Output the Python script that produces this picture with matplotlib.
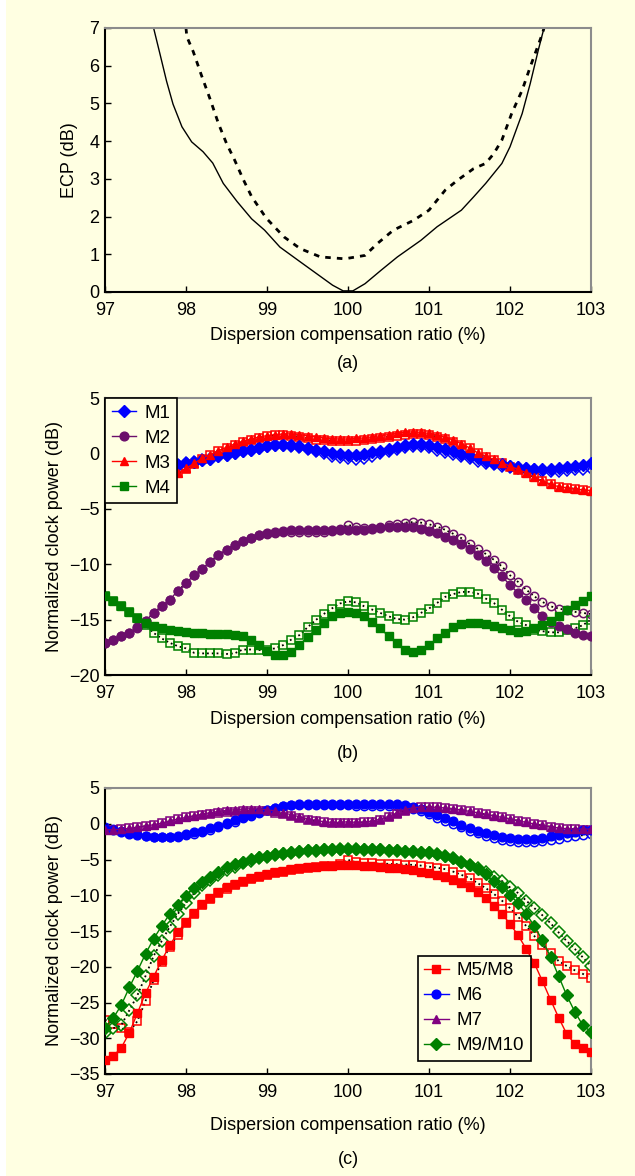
import numpy as np
import matplotlib
matplotlib.use("Agg")
import matplotlib.pyplot as plt
from matplotlib.patches import Rectangle

plt.rcParams['font.family'] = ['Liberation Sans', 'DejaVu Sans']

# ---------------- data ----------------
# Panel (a): ECP curves
ecp_solid_x = [97.6, 97.68, 97.76, 97.84, 97.95, 98.07, 98.21, 98.33, 98.46, 98.63, 98.81, 98.97,
               99.16, 99.41, 99.61, 99.81, 99.94, 100.06, 100.21, 100.41, 100.61, 100.9, 101.1,
               101.4, 101.55, 101.7, 101.9, 102.0, 102.15, 102.25, 102.35, 102.42]
ecp_solid_y = [7.0, 6.3, 5.59, 4.98, 4.38, 3.98, 3.72, 3.42, 2.88, 2.4, 1.94, 1.64,
               1.19, 0.8, 0.49, 0.18, 0.03, 0.03, 0.22, 0.58, 0.93, 1.37, 1.73,
               2.17, 2.52, 2.88, 3.41, 3.85, 4.73, 5.53, 6.42, 7.0]
ecp_dash_x = [98.0, 98.01, 98.09, 98.19, 98.3, 98.4, 98.5, 98.6, 98.71, 98.81, 98.99, 99.21, 99.41,
              99.66, 99.96, 100.21, 100.36, 100.56, 100.81, 101.0, 101.2, 101.35, 101.55, 101.7,
              101.8, 101.9, 102.02, 102.15, 102.25, 102.4, 102.42]
ecp_dash_y = [7.0, 6.77, 6.37, 5.75, 5.1, 4.47, 3.94, 3.5, 2.97, 2.53, 1.96, 1.46, 1.15,
              0.93, 0.88, 0.97, 1.28, 1.64, 1.9, 2.17, 2.7, 2.96, 3.27, 3.41,
              3.67, 4.03, 4.73, 5.35, 5.97, 6.85, 7.0]

# Panels (b), (c): dispersion compensation ratio grid (%)
ratio = np.round(np.arange(97.0, 103.001, 0.1), 1)

# Panel (b) – filled series (solid) and open series (dotted)
m1 = [-0.9, -1.0, -1.0, -1.05, -1.05, -1.1, -1.1, -1.1, -1.08, -1.05, -0.9, -0.8, -0.63, -0.48, -0.27,
      -0.12, 0.03, 0.24, 0.33, 0.48, 0.63, 0.72, 0.78, 0.76, 0.63, 0.48, 0.33, 0.18, 0.03, -0.06,
      -0.1, -0.1, -0.05, 0.1, 0.25, 0.4, 0.55, 0.75, 0.85, 0.83, 0.75, 0.58, 0.4, 0.18, -0.05,
      -0.27, -0.45, -0.66, -0.87, -1.0, -1.17, -1.27, -1.36, -1.39, -1.39, -1.39, -1.36, -1.27, -1.17, -1.05, -0.87]
m1_open = [-0.9, -1.0, -1.0, -1.05, -1.05, -1.1, -1.1, -1.1, -1.08, -1.05, -0.9, -0.8, -0.63, -0.48, -0.27,
           -0.12, 0.03, 0.24, 0.33, 0.48, 0.63, 0.72, 0.75, 0.7, 0.6, 0.4, 0.2, 0.0, -0.2, -0.35,
           -0.42, -0.5, -0.4, -0.2, 0.0, 0.2, 0.4, 0.55, 0.65, 0.65, 0.55, 0.35, 0.15, -0.05, -0.25,
           -0.45, -0.65, -0.85, -1.0, -1.15, -1.25, -1.35, -1.45, -1.5, -1.55, -1.55, -1.55, -1.5, -1.45, -1.4, -1.3]
m2 = [-17.08, -16.84, -16.5, -16.2, -15.7, -15.1, -14.4, -13.8, -13.2, -12.4, -11.7, -11.0, -10.4, -9.76, -9.16,
      -8.7, -8.25, -7.9, -7.6, -7.35, -7.2, -7.05, -6.96, -6.9, -6.9, -6.9, -6.9, -6.9, -6.92, -6.92,
      -6.9, -6.9, -6.9, -6.84, -6.75, -6.66, -6.6, -6.6, -6.66, -6.78, -6.96, -7.2, -7.5, -7.8, -8.16,
      -8.6, -9.16, -9.67, -10.36, -11.1, -11.87, -12.6, -13.2, -13.98, -14.67, -15.2, -15.56, -15.86, -16.2, -16.4, -16.5]
m2_open = [-17.08, -16.84, -16.5, -16.2, -15.8, -15.1, -14.4, -13.8, -13.2, -12.4, -11.7, -11.0, -10.4, -9.76, -9.16,
           -8.7, -8.25, -7.9, -7.6, -7.4, -7.25, -7.15, -7.1, -7.1, -7.1, -7.1, -7.1, -7.1, -7.0, -6.85,
           -6.45, -6.65, -6.75, -6.75, -6.66, -6.5, -6.4, -6.25, -6.2, -6.25, -6.4, -6.6, -6.9, -7.26, -7.65,
           -8.16, -8.6, -9.07, -9.6, -10.2, -11.0, -11.6, -12.3, -12.9, -13.4, -13.8, -14.0, -14.15, -14.3, -14.4, -14.5]
m3 = [-3.4, -3.25, -3.05, -2.85, -2.65, -2.45, -2.25, -2.1, -1.95, -1.75, -1.35, -0.9, -0.45, -0.1, 0.25,
      0.55, 0.85, 1.1, 1.3, 1.48, 1.6, 1.7, 1.75, 1.77, 1.7, 1.6, 1.48, 1.4, 1.33, 1.3,
      1.3, 1.35, 1.4, 1.5, 1.6, 1.7, 1.8, 1.9, 1.95, 1.9, 1.8, 1.65, 1.45, 1.2, 0.87,
      0.5, 0.05, -0.25, -0.55, -0.85, -1.15, -1.45, -1.75, -2.15, -2.5, -2.8, -3.0, -3.1, -3.2, -3.3, -3.35]
m3_open = [-3.4, -3.25, -3.05, -2.85, -2.65, -2.45, -2.25, -2.1, -1.95, -1.8, -1.4, -0.95, -0.5, -0.15, 0.2,
           0.5, 0.8, 1.05, 1.25, 1.42, 1.55, 1.62, 1.65, 1.6, 1.5, 1.35, 1.25, 1.2, 1.15, 1.15,
           1.15, 1.15, 1.2, 1.3, 1.4, 1.5, 1.6, 1.7, 1.75, 1.75, 1.65, 1.5, 1.3, 1.05, 0.75,
           0.45, 0.05, -0.3, -0.6, -0.9, -1.2, -1.5, -1.8, -2.15, -2.5, -2.8, -3.0, -3.1, -3.2, -3.3, -3.4]
m4 = [-12.86, -13.3, -13.8, -14.3, -14.9, -15.3, -15.6, -15.8, -15.95, -16.05, -16.15, -16.2, -16.25, -16.3, -16.3,
      -16.3, -16.35, -16.5, -16.8, -17.3, -17.8, -18.15, -18.15, -17.9, -17.3, -16.55, -15.9, -15.3, -14.7, -14.4,
      -14.3, -14.4, -14.7, -15.2, -15.8, -16.5, -17.1, -17.7, -17.95, -17.75, -17.3, -16.7, -16.2, -15.7, -15.4,
      -15.3, -15.3, -15.4, -15.6, -15.8, -15.95, -16.1, -16.0, -15.8, -15.5, -15.1, -14.7, -14.1, -13.7, -13.3, -12.9]
m4_open = [-12.86, -13.3, -13.8, -14.3, -14.9, -15.5, -16.2, -16.7, -17.1, -17.4, -17.6, -18.0, -18.05, -18.05, -18.05,
           -18.1, -18.05, -17.7, -17.7, -17.75, -17.7, -17.6, -17.3, -16.8, -16.4, -15.7, -15.05, -14.5, -14.0, -13.55,
           -13.35, -13.45, -13.8, -14.1, -14.4, -14.7, -14.95, -15.0, -14.8, -14.4, -14.0, -13.5, -12.95, -12.7, -12.5,
           -12.5, -12.65, -13.1, -13.5, -14.1, -14.7, -15.2, -15.5, -15.9, -16.05, -16.15, -16.15, -15.95, -15.8, -15.5, -15.0]

# Panel (c)
m5 = [-33.1, -32.5, -31.35, -29.25, -26.5, -23.7, -21.4, -19.1, -17.0, -15.2, -13.7, -12.5, -11.26, -10.4, -9.6,
      -8.9, -8.46, -8.0, -7.6, -7.25, -7.0, -6.8, -6.6, -6.35, -6.2, -6.07, -5.98, -5.9, -5.85, -5.82,
      -5.8, -5.8, -5.85, -5.95, -6.05, -6.15, -6.25, -6.35, -6.5, -6.7, -6.9, -7.15, -7.5, -7.85, -8.3,
      -8.9, -9.6, -10.4, -11.5, -12.6, -14.0, -15.6, -17.5, -19.5, -22.0, -24.6, -27.1, -29.4, -30.8, -31.3, -31.9]
m8_open = [-27.4, -28.0, -28.6, -29.1, -27.6, -24.8, -21.9, -19.3, -17.2, -15.5, -13.9, -12.6, -11.4, -10.5, -9.75,
           -9.1, -8.6, -8.15, -7.75, -7.45, -7.15, -6.9, -6.7, -6.5, -6.35, -6.2, -6.05, -5.95, -5.85, -5.6,
           -5.05, -5.4, -5.5, -5.55, -5.6, -5.6, -5.65, -5.7, -5.75, -5.85, -6.0, -6.15, -6.35, -6.7, -7.15,
           -7.6, -8.3, -9.0, -9.8, -10.75, -11.8, -13.0, -14.3, -15.7, -17.0, -18.1, -19.2, -19.9, -20.5, -21.0, -21.6]
m6 = [-0.75, -0.93, -1.2, -1.4, -1.63, -1.78, -1.9, -1.9, -1.87, -1.68, -1.45, -1.2, -0.98, -0.65, -0.28,
      0.09, 0.47, 0.89, 1.26, 1.64, 1.96, 2.24, 2.48, 2.6, 2.7, 2.75, 2.75, 2.75, 2.75, 2.75,
      2.75, 2.7, 2.7, 2.7, 2.7, 2.7, 2.7, 2.62, 2.34, 2.06, 1.64, 1.2, 0.8, 0.33, -0.14,
      -0.6, -0.98, -1.3, -1.64, -1.87, -2.06, -2.15, -2.15, -2.1, -1.96, -1.78, -1.54, -1.3, -1.12, -0.93, -0.84]
m6_open = [-0.5, -0.7, -1.0, -1.25, -1.5, -1.7, -1.85, -1.9, -1.9, -1.8, -1.6, -1.4, -1.15, -0.85, -0.5,
           -0.1, 0.3, 0.75, 1.15, 1.55, 1.9, 2.2, 2.45, 2.6, 2.65, 2.65, 2.65, 2.65, 2.62, 2.6,
           2.6, 2.5, 2.5, 2.5, 2.5, 2.5, 2.5, 2.4, 2.1, 1.75, 1.3, 0.85, 0.4, -0.05, -0.5,
           -0.95, -1.35, -1.7, -2.0, -2.25, -2.45, -2.55, -2.6, -2.55, -2.45, -2.3, -2.1, -1.9, -1.75, -1.6, -1.5]
m7 = [-0.84, -0.84, -0.75, -0.65, -0.51, -0.33, -0.14, 0.09, 0.37, 0.65, 0.89, 1.12, 1.36, 1.54, 1.73,
      1.87, 1.96, 2.06, 2.1, 2.06, 1.96, 1.78, 1.54, 1.26, 0.98, 0.7, 0.47, 0.28, 0.19, 0.19,
      0.28, 0.19, 0.23, 0.37, 0.65, 1.03, 1.5, 1.96, 2.24, 2.34, 2.34, 2.3, 2.2, 2.06, 1.92,
      1.73, 1.54, 1.31, 1.12, 0.89, 0.65, 0.42, 0.19, -0.05, -0.23, -0.42, -0.6, -0.7, -0.75, -0.75, -0.75]
m7_open = [-0.84, -0.84, -0.75, -0.65, -0.51, -0.33, -0.14, 0.09, 0.37, 0.65, 0.89, 1.05, 1.25, 1.4, 1.55,
           1.65, 1.7, 1.75, 1.8, 1.8, 1.75, 1.55, 1.3, 1.05, 0.8, 0.55, 0.35, 0.2, 0.1, 0.1,
           0.15, 0.15, 0.2, 0.3, 0.55, 0.95, 1.4, 1.85, 2.15, 2.3, 2.34, 2.3, 2.2, 2.06, 1.92,
           1.73, 1.54, 1.31, 1.12, 0.89, 0.65, 0.42, 0.19, -0.05, -0.23, -0.42, -0.6, -0.7, -0.8, -0.85, -0.9]
m9 = [-28.5, -27.2, -25.4, -22.9, -20.6, -18.2, -16.1, -14.3, -12.6, -11.3, -10.05, -9.0, -8.2, -7.4, -6.7,
      -6.1, -5.65, -5.3, -4.95, -4.67, -4.5, -4.3, -4.1, -3.97, -3.88, -3.74, -3.64, -3.6, -3.55, -3.52,
      -3.5, -3.5, -3.52, -3.55, -3.6, -3.65, -3.72, -3.8, -3.88, -3.95, -4.0, -4.2, -4.5, -4.8, -5.28,
      -5.75, -6.36, -7.06, -8.0, -8.9, -10.0, -11.1, -12.6, -14.3, -16.3, -18.6, -21.3, -24.0, -26.3, -28.2, -29.1]
m10_open = [-29.25, -28.6, -28.2, -26.1, -24.0, -21.3, -18.5, -16.4, -14.4, -12.6, -11.1, -9.7, -8.55, -7.85, -7.1,
            -6.5, -6.0, -5.55, -5.15, -4.85, -4.6, -4.4, -4.2, -4.05, -3.95, -3.85, -3.75, -3.7, -3.65, -3.6,
            -3.6, -3.6, -3.62, -3.65, -3.7, -3.75, -3.82, -3.9, -3.98, -4.05, -4.1, -4.3, -4.55, -4.85, -5.3,
            -5.75, -6.2, -6.8, -7.4, -8.0, -8.9, -9.7, -10.75, -11.8, -12.8, -13.9, -15.2, -16.4, -17.5, -18.7, -19.9]

x_ticks = [97, 98, 99, 100, 101, 102, 103]
labels_b = ['M1', 'M2', 'M3', 'M4']
labels_c = ['M5/M8', 'M6', 'M7', 'M9/M10']

# ---------------- style ----------------
BG = '#FFFFE2'
BLUE = '#0000FF'
PURPLE_B = '#6B0F6B'
PURPLE_C = '#800080'
RED = '#FF0000'
GREEN = '#008000'
FS = 13

W, H = 635, 1176
fig = plt.figure(figsize=(W / 100, H / 100), dpi=100, facecolor=BG)
fig.patches.append(Rectangle((0, 0), 6 / W, 1, transform=fig.transFigure,
                             facecolor='white', edgecolor='none', zorder=-10))


def make_axes(top_px, bottom_px):
    left, right = 105, 591
    ax = fig.add_axes([left / W, 1 - bottom_px / H, (right - left) / W, (bottom_px - top_px) / H])
    ax.set_facecolor(BG)
    for s in ('left', 'bottom'):
        ax.spines[s].set_color('black')
        ax.spines[s].set_linewidth(1.5)
    for s in ('top', 'right'):
        ax.spines[s].set_color('#8c8c8c')
        ax.spines[s].set_linewidth(1.5)
    ax.tick_params(direction='in', length=4, width=1, labelsize=FS,
                   top=False, right=False)
    ax.tick_params(axis='y', pad=4)
    ax.tick_params(axis='x', pad=7)
    ax.set_xlim(97, 103)
    ax.set_xticks(x_ticks)
    return ax


def caption(xlabel_px, cap_px, cap):
    fig.text(348 / W, 1 - xlabel_px / H, 'Dispersion compensation ratio (%)',
             ha='center', va='center', fontsize=FS)
    fig.text(348 / W, 1 - cap_px / H, cap, ha='center', va='center', fontsize=FS)


# Panel (a)
ax_a = make_axes(28, 292)
ax_a.plot(ecp_solid_x, ecp_solid_y, color='black', lw=1.0)
ax_a.plot(ecp_dash_x, ecp_dash_y, color='black', lw=2.0, ls=(0, (2.0, 2.2)))
ax_a.set_ylim(0, 7)
ax_a.set_yticks(range(0, 8))
ax_a.set_ylabel('ECP (dB)', fontsize=FS, labelpad=8)
caption(335, 364, '(a)')

MS = 6.3
MS_OPEN = 6.0


def pair(ax, filled, opened, color, mk, mk_open, label):
    ax.plot(ratio, opened, ls=':', color='black', lw=1.3, marker=mk_open, ms=MS_OPEN,
            mfc='none', mec=color, mew=1.1, zorder=2)
    ax.plot(ratio, filled, ls='-', color=color, lw=1.0, marker=mk, ms=MS,
            mfc=color, mec=color, label=label, zorder=3)


legend_kw = dict(borderaxespad=0, fontsize=FS + 0.5, frameon=True, fancybox=False, framealpha=1,
                 handlelength=1.3, handletextpad=0.45, labelspacing=0.42,
                 borderpad=0.35, edgecolor='black', facecolor=BG)

# Panel (b)
ax_b = make_axes(398, 675)
pair(ax_b, m1, m1_open, BLUE, 'D', 'D', labels_b[0])
pair(ax_b, m2, m2_open, PURPLE_B, 'o', 'o', labels_b[1])
pair(ax_b, m3, m3_open, RED, '^', 's', labels_b[2])
pair(ax_b, m4, m4_open, GREEN, 's', 's', labels_b[3])
ax_b.set_ylim(-20, 5)
ax_b.set_yticks([-20, -15, -10, -5, 0, 5])
ax_b.set_ylabel('Normalized clock power (dB)', fontsize=FS, labelpad=4)
leg_b = ax_b.legend(loc='upper left', bbox_to_anchor=(0, 1), **legend_kw)
leg_b.get_frame().set_linewidth(1.2)
leg_b.set_zorder(5)
caption(719, 753, '(b)')

# Panel (c)
ax_c = make_axes(788, 1074)
pair(ax_c, m5, m8_open, RED, 's', 's', labels_c[0])
pair(ax_c, m6, m6_open, BLUE, 'o', 'o', labels_c[1])
pair(ax_c, m7, m7_open, PURPLE_C, '^', 's', labels_c[2])
pair(ax_c, m9, m10_open, GREEN, 'D', 'D', labels_c[3])
ax_c.set_ylim(-35, 5)
ax_c.set_yticks([-35, -30, -25, -20, -15, -10, -5, 0, 5])
ax_c.set_ylabel('Normalized clock power (dB)', fontsize=FS, labelpad=4)
leg_c = ax_c.legend(loc='lower right', bbox_to_anchor=((531 - 105) / 486, (1074 - 1061) / 286),
                    **legend_kw)
leg_c.get_frame().set_linewidth(1.2)
leg_c.set_zorder(5)
caption(1126, 1160, '(c)')

fig.savefig('out.png', dpi=100, facecolor=BG)
